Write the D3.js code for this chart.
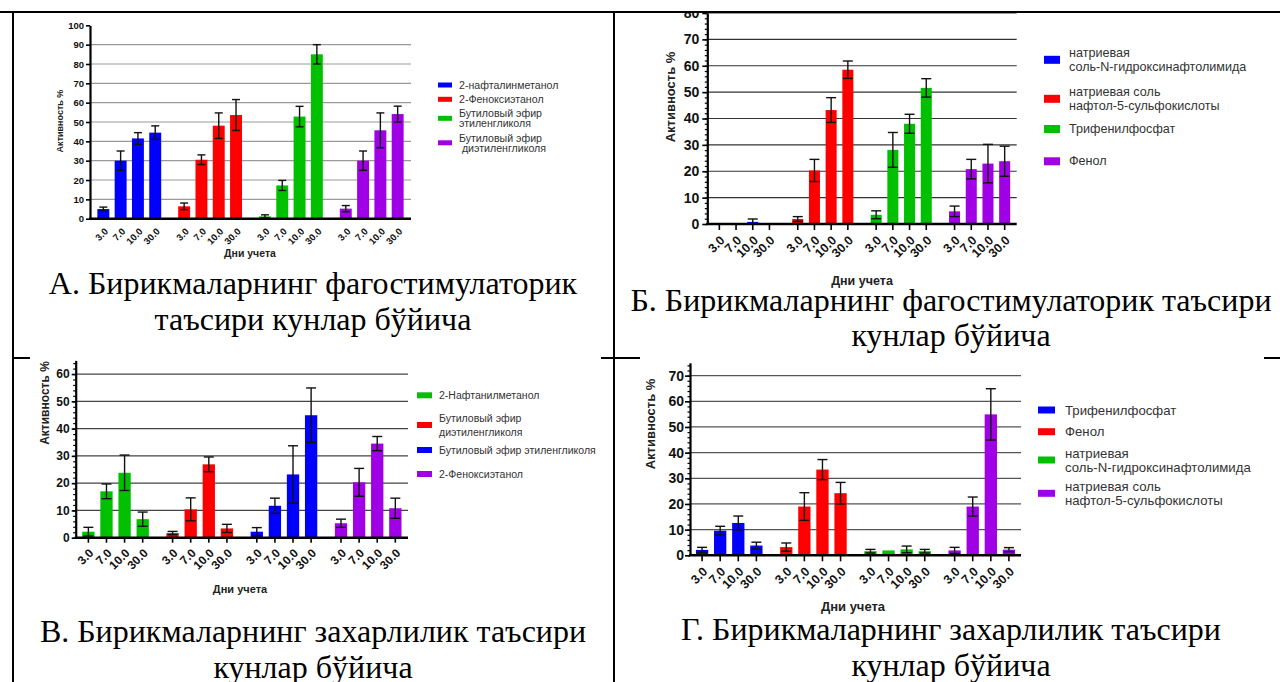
<!DOCTYPE html>
<html>
<head>
<meta charset="utf-8">
<script src="https://cdn.jsdelivr.net/npm/d3@7"></script>
<style>
  body { margin: 0; background: #fff; }
  svg { display: block; }
  text { white-space: pre; }
</style>
</head>
<body>
<svg width="1280" height="682"></svg>
<script>
/* ---------------- Datos ---------------- */
const days = ["3.0", "7.0", "10.0", "30.0"];

const BLUE = "#0000ff", RED = "#ff0000", GREEN = "#00c000", PURPLE = "#a000e6";

// A
const namesA = ["2-нафталинметанол", "2-Феноксиэтанол", "Бутиловый эфир\nэтиленгликоля", "Бутиловый эфир\n диэтиленгликоля"];
const colorsA = [BLUE, RED, GREEN, PURPLE];
const valuesA = [[5, 30, 41.5, 44.5], [6.4, 30.5, 48.1, 53.6], [1.2, 17.2, 52.8, 85], [5.2, 30, 45.7, 54.1]];
const errorsA = [[1, 5, 3, 3.5], [1.7, 2.5, 6.6, 8], [0.8, 2.6, 5.3, 5], [1.6, 5, 9, 4.1]];

// Б
const namesB = ["натриевая\nсоль-N-гидроксинафтолимида", "натриевая соль\nнафтол-5-сульфокислоты", "Трифенилфосфат", "Фенол"];
const colorsB = [BLUE, RED, GREEN, PURPLE];
const valuesB = [[0, 0, 0.8, 0], [1.9, 20.3, 43.2, 58.5], [3.5, 28.1, 38, 51.6], [4.8, 20.8, 22.9, 23.8]];
const errorsB = [[0, 0, 1.1, 0], [0.9, 4.2, 4.7, 3.3], [1.5, 6.6, 3.6, 3.5], [2, 3.7, 7.3, 5.7]];

// В
const namesV = ["2-Нафтанилметанол", "Бутиловый эфир\nдиэтиленгликоля", "Бутиловый эфир этиленгликоля", "2-Феноксиэтанол"];
const colorsV = [GREEN, RED, BLUE, PURPLE];
const valuesV = [[2.2, 17, 23.8, 6.8], [1.7, 10.4, 26.9, 3.4], [2.2, 11.7, 23.2, 44.9], [5.3, 20.3, 34.5, 10.8]];
const errorsV = [[1.6, 2.7, 6.5, 2.6], [0.6, 4.2, 2.7, 1.5], [1.5, 2.8, 10.5, 10], [1.5, 5.1, 2.6, 3.7]];

// Г
const namesG = ["Трифенилфосфат", "Фенол", "натриевая\nсоль-N-гидроксинафтолимида", "натриевая соль\nнафтол-5-сульфокислоты"];
const colorsG = [BLUE, RED, GREEN, PURPLE];
const valuesG = [[2.1, 9.6, 12.6, 3.8], [3.2, 19, 33.4, 24.2], [1.6, 1.9, 2.3, 1.6], [1.9, 19, 54.9, 2.2]];
const errorsG = [[1, 1.7, 2.7, 1.3], [1.6, 5.4, 3.9, 4.2], [0.7, 0, 1.3, 0.7], [1.2, 3.7, 10, 0.8]];

const yLabel = "Активность %";
const xLabel = "Дни учета";

const captionsLines = [
  ["А. Бирикмаларнинг фагостимулаторик", "таъсири кунлар бўйича"],
  ["Б. Бирикмаларнинг фагостимулаторик таъсири", "кунлар бўйича"],
  ["В. Бирикмаларнинг захарлилик таъсири", "кунлар бўйича"],
  ["Г. Бирикмаларнинг захарлилик таъсири", "кунлар бўйича"]
];

const SANS = "'Liberation Sans', Arial, sans-serif";
const SERIF = "'Liberation Serif', 'Times New Roman', serif";

const svg = d3.select("svg");

/* ---------------- Panel ---------------- */
function drawPanel(p, names, colors, values, errors) {
  let g = svg.append("g");
  if (p.clipTop != null) {
    svg.append("clipPath").attr("id", p.id + "clip")
      .append("rect").attr("x", 0).attr("y", p.clipTop).attr("width", 1280).attr("height", 682);
    g.attr("clip-path", `url(#${p.id}clip)`);
  }

  const y = d3.scaleLinear().domain([0, p.yMax]).range([p.y0, p.yTop]);
  const x0 = d3.scaleBand().domain(d3.range(names.length)).range([p.left, p.right])
    .paddingInner(p.pi).paddingOuter(p.po);
  const x1 = d3.scaleBand().domain(days).range([0, x0.bandwidth()])
    .paddingInner(1 - p.barFrac).paddingOuter((1 - p.barFrac) / 2);

  // rejilla
  g.selectAll(".grid").data(p.grid).join("line")
    .attr("x1", p.left).attr("x2", p.right)
    .attr("y1", d => y(d)).attr("y2", d => y(d))
    .attr("stroke", p.gridColor).attr("stroke-width", 1.2);

  // barras
  names.forEach((n, gi) => {
    const gg = g.append("g").attr("transform", `translate(${x0(gi)},0)`);
    gg.selectAll("rect").data(values[gi]).join("rect")
      .attr("x", (d, i) => x1(days[i]))
      .attr("width", x1.bandwidth())
      .attr("y", d => y(d))
      .attr("height", d => p.y0 - y(d))
      .attr("fill", colors[gi]);

    // barras de error
    values[gi].forEach((v, i) => {
      const e = errors[gi][i];
      if (!e) return;
      const cx = x1(days[i]) + x1.bandwidth() / 2;
      const top = y(v + e), bot = y(Math.max(0, v - e));
      gg.append("line").attr("x1", cx).attr("x2", cx).attr("y1", top).attr("y2", bot)
        .attr("stroke", "#111").attr("stroke-width", 1.4);
      [top, bot].forEach(yy => {
        gg.append("line").attr("x1", cx - p.cap / 2).attr("x2", cx + p.cap / 2)
          .attr("y1", yy).attr("y2", yy).attr("stroke", "#111").attr("stroke-width", 1.4);
      });
    });

    // etiquetas de dias
    days.forEach(dd => {
      const cx = x0(gi) + x1(dd) + x1.bandwidth() / 2;
      if (p.xTick) {
        g.append("line").attr("x1", cx).attr("x2", cx).attr("y1", p.y0).attr("y2", p.y0 + p.xTick)
          .attr("stroke", "#000").attr("stroke-width", 1.6);
      }
      g.append("text")
        .attr("transform", `translate(${cx + p.xtDx},${p.y0 + p.xtDy}) rotate(-45)`)
        .attr("text-anchor", "end").attr("dy", "0.35em")
        .style("font", `bold ${p.xtFont}px ${SANS}`).attr("fill", "#111")
        .text(dd);
    });
  });

  // eje Y
  const ax = g.append("g").attr("transform", `translate(${p.left},0)`)
    .call(d3.axisLeft(y).tickValues(p.ticks).tickSize(p.tickLen).tickSizeOuter(0)
      .tickPadding(p.labelGap - p.tickLen).tickFormat(d3.format("d")));
  ax.select(".domain").attr("stroke", "#000").attr("stroke-width", 2.2);
  ax.selectAll(".tick line").attr("stroke", "#000").attr("stroke-width", 1.6);
  ax.selectAll(".tick text").style("font", `bold ${p.tickFont}px ${SANS}`).attr("fill", "#111");
  if (p.minor) {
    const mx = g.append("g").attr("transform", `translate(${p.left},0)`)
      .call(d3.axisLeft(y).tickValues(p.minor).tickSize(2.5).tickFormat(""));
    mx.select(".domain").remove();
    mx.selectAll(".tick line").attr("stroke", "#000").attr("stroke-width", 1.2);
  }

  // eje X
  g.append("line").attr("x1", p.left - 1).attr("x2", p.right)
    .attr("y1", p.y0).attr("y2", p.y0).attr("stroke", "#000").attr("stroke-width", 2.6);

  // titulos de ejes
  g.append("text")
    .attr("transform", `translate(${p.yLab[0]},${p.yLab[1]}) rotate(-90)`)
    .attr("text-anchor", "middle").attr("dominant-baseline", "central")
    .style("font", `bold ${p.yLab[2]}px ${SANS}`).attr("fill", "#222")
    .text(yLabel);
  g.append("text")
    .attr("x", p.xLab[0]).attr("y", p.xLab[1])
    .attr("text-anchor", "middle").attr("dominant-baseline", "central")
    .style("font", `bold ${p.xLab[2]}px ${SANS}`).attr("fill", "#222")
    .text(xLabel);

  // leyenda
  const L = p.legend;
  names.forEach((n, i) => {
    const cy = L.ys[i];
    svg.append("rect").attr("x", L.x).attr("y", cy - L.h / 2)
      .attr("width", L.w).attr("height", L.h).attr("fill", colors[i]);
    const lines = n.split("\n");
    lines.forEach((ln, j) => {
      const ly = cy + (j - (lines.length - 1) / 2) * L.lh;
      svg.append("text")
        .attr("transform", `translate(${L.tx},${ly}) scale(${L.sx || 1},1)`)
        .attr("dominant-baseline", "central")
        .style("font", `${L.font}px ${SANS}`).attr("fill", "#333")
        .text(ln);
    });
  });
}

drawPanel({
  id: "A", left: 90, right: 411, y0: 218.7, yTop: 25.3, yMax: 100,
  ticks: d3.range(0, 101, 10), grid: d3.range(10, 91, 10), minor: null,
  pi: 0.144, po: 0.058, barFrac: 0.69, cap: 8, gridColor: "#9a9a9a",
  tickFont: 9.5, xtFont: 9.5, xtDx: 3, xtDy: 11, labelGap: 6, tickLen: 4, xTick: 0,
  yLab: [60, 121, 9], xLab: [250, 253, 10.5],
  legend: { x: 438, w: 14, h: 5, tx: 459, ys: [85, 99.3, 118.3, 142.8], lh: 9.8, font: 10.6 }
}, namesA, colorsA, valuesA, errorsA);

drawPanel({
  id: "B", left: 707.3, right: 1016.7, y0: 224, yTop: 13, yMax: 80, clipTop: 12,
  ticks: d3.range(0, 81, 10), grid: d3.range(10, 81, 10), minor: d3.range(0, 81, 2),
  pi: 0.148, po: 0.047, barFrac: 0.66, cap: 10, gridColor: "#333",
  tickFont: 14, xtFont: 12.5, xtDx: 3, xtDy: 14, labelGap: 8, tickLen: 5, xTick: 6,
  yLab: [670, 97, 13], xLab: [862, 281, 12.5],
  legend: { x: 1044, w: 16, h: 8, tx: 1069, ys: [59.8, 98.8, 129, 161.3], lh: 14.4, font: 12.6 }
}, namesB, colorsB, valuesB, errorsB);

drawPanel({
  id: "V", left: 75.7, right: 408, y0: 537.7, yTop: 360.4, yMax: 65,
  ticks: d3.range(0, 61, 10), grid: d3.range(10, 61, 10), minor: d3.range(0, 65, 2),
  pi: 0.14, po: 0.043, barFrac: 0.68, cap: 10, gridColor: "#444",
  tickFont: 12, xtFont: 12, xtDx: 3, xtDy: 13, labelGap: 6, tickLen: 4, xTick: 5,
  yLab: [45, 403, 12], xLab: [240, 589, 11],
  legend: { x: 417, w: 15, h: 6, tx: 439, ys: [395.3, 425, 450, 474], lh: 13.4, font: 11.5, sx: 0.915 }
}, namesV, colorsV, valuesV, errorsV);

drawPanel({
  id: "G", left: 690, right: 1021, y0: 555.3, yTop: 362.8, yMax: 75,
  ticks: d3.range(0, 71, 10), grid: d3.range(10, 71, 10), minor: d3.range(0, 75, 2),
  pi: 0.14, po: 0.036, barFrac: 0.68, cap: 10, gridColor: "#555",
  tickFont: 14, xtFont: 12.5, xtDx: 3, xtDy: 14, labelGap: 6, tickLen: 5, xTick: 6,
  yLab: [650, 424, 13], xLab: [853, 606, 13],
  legend: { x: 1038, w: 17, h: 7, tx: 1065, ys: [410, 431.7, 460, 493.3], lh: 14, font: 13.2 }
}, namesG, colorsG, valuesG, errorsG);

/* ---------------- Pies de figura ---------------- */
const capPos = [[313, 294, 330], [951, 311, 346], [313, 642, 678], [951, 640, 676]];
captionsLines.forEach((lines, i) => {
  lines.forEach((ln, j) => {
    svg.append("text").attr("x", capPos[i][0]).attr("y", capPos[i][1 + j])
      .attr("text-anchor", "middle")
      .style("font", `32px ${SERIF}`).attr("fill", "#000")
      .text(ln);
  });
});

/* ---------------- Bordes de la tabla ---------------- */
const border = svg.append("g").attr("stroke", "#000").attr("stroke-width", 2);
border.append("line").attr("x1", 0).attr("x2", 1280).attr("y1", 12).attr("y2", 12);
border.append("line").attr("x1", 13).attr("x2", 13).attr("y1", 12).attr("y2", 682);
border.append("line").attr("x1", 614).attr("x2", 614).attr("y1", 12).attr("y2", 682);
[[13, 30], [601, 640], [1264, 1280]].forEach(s => {
  border.append("line").attr("x1", s[0]).attr("x2", s[1]).attr("y1", 358).attr("y2", 358);
});
</script>
</body>
</html>
